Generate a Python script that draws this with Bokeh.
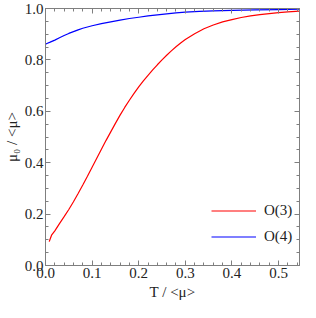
from bokeh.plotting import figure
from bokeh.models import (LinearAxis, FixedTicker, Range1d, Legend, LegendItem,
                          NumeralTickFormatter, CustomJSTickFormatter)
from bokeh.embed import file_html
from bokeh.resources import INLINE

# O(3) curve
t_o3 = [0.008, 0.010, 0.013, 0.02, 0.03, 0.04, 0.05, 0.06, 0.07, 0.08, 0.09, 0.10,
        0.11, 0.12, 0.13, 0.14, 0.15, 0.16, 0.17, 0.18, 0.19, 0.20, 0.21, 0.22,
        0.23, 0.24, 0.25, 0.26, 0.27, 0.28, 0.29, 0.30, 0.32, 0.34, 0.36, 0.38,
        0.40, 0.42, 0.44, 0.46, 0.48, 0.50, 0.52, 0.545]
mu_o3 = [0.093, 0.103, 0.118, 0.135, 0.163, 0.19, 0.218, 0.248, 0.28, 0.313, 0.347,
         0.382, 0.417, 0.452, 0.487, 0.52, 0.553, 0.585, 0.615, 0.643, 0.67, 0.695,
         0.718, 0.74, 0.761, 0.781, 0.80, 0.818, 0.835, 0.851, 0.866, 0.879, 0.902,
         0.921, 0.936, 0.948, 0.957, 0.965, 0.971, 0.976, 0.980, 0.984, 0.987, 0.990]
# O(4) curve
t_o4 = [0.0, 0.003, 0.01, 0.02, 0.03, 0.04, 0.05, 0.06, 0.07, 0.08, 0.09, 0.10,
        0.12, 0.14, 0.16, 0.18, 0.20, 0.22, 0.24, 0.26, 0.28, 0.30, 0.33, 0.36,
        0.40, 0.45, 0.50, 0.545]
mu_o4 = [0.861, 0.864, 0.869, 0.877, 0.886, 0.895, 0.903, 0.910, 0.917, 0.923,
         0.928, 0.933, 0.941, 0.948, 0.955, 0.961, 0.966, 0.971, 0.975, 0.979,
         0.983, 0.986, 0.989, 0.991, 0.993, 0.995, 0.996, 0.997]

x_major = [0.0, 0.1, 0.2, 0.3, 0.4, 0.5]
x_minor = [round(i * 0.02, 2) for i in range(0, 28)]
y_major = [0.0, 0.2, 0.4, 0.6, 0.8, 1.0]
y_minor = [round(i * 0.05, 2) for i in range(0, 21)]
labels = ["O(3)", "O(4)"]
colors = ["#ff0000", "#0000ff"]

FONT = "Liberation Serif"
AX = "#7f7f7f"

p = figure(width=300, height=302, output_backend="svg", toolbar_location=None,
           x_range=Range1d(0, 0.545), y_range=Range1d(0, 1.0),
           min_border_left=37, min_border_right=1, min_border_top=8, min_border_bottom=35,
           x_axis_location=None, y_axis_location=None)
p.grid.visible = False
p.outline_line_color = AX
p.background_fill_color = "white"
p.border_fill_color = "white"

xt = FixedTicker(ticks=x_major, minor_ticks=x_minor)
yt = FixedTicker(ticks=y_major, minor_ticks=y_minor)

def style(ax):
    ax.axis_line_color = AX
    ax.major_tick_line_color = AX
    ax.minor_tick_line_color = AX
    ax.major_tick_in = 5
    ax.major_tick_out = 0
    ax.minor_tick_in = 3
    ax.minor_tick_out = 0
    ax.major_label_text_font = FONT
    ax.major_label_text_font_size = "15px"
    ax.major_label_text_color = "#222222"
    ax.axis_label_text_font = FONT
    ax.axis_label_text_font_size = "15px"
    ax.axis_label_text_font_style = "normal"
    ax.axis_label_text_color = "#222222"

bx = LinearAxis(ticker=xt, axis_label="T / <μ>", formatter=NumeralTickFormatter(format="0.0"))
style(bx)
bx.major_label_standoff = 2
bx.axis_label_standoff = 3
p.add_layout(bx, "below")

ly = LinearAxis(ticker=yt, axis_label="μ₀ / <μ>", formatter=NumeralTickFormatter(format="0.0"))
style(ly)
ly.major_label_standoff = 2
ly.axis_label_standoff = 2
p.add_layout(ly, "left")

blank = CustomJSTickFormatter(code="return ''")
tx = LinearAxis(ticker=xt, formatter=blank)
style(tx)
tx.major_label_standoff = 0
p.add_layout(tx, "above")

ry = LinearAxis(ticker=yt, formatter=blank)
style(ry)
ry.major_label_standoff = 0
p.add_layout(ry, "right")

r3 = p.line(t_o3, mu_o3, line_color=colors[0], line_width=1.2)
r4 = p.line(t_o4, mu_o4, line_color=colors[1], line_width=1.2)

leg = Legend(items=[LegendItem(label=labels[0], renderers=[r3]),
                    LegendItem(label=labels[1], renderers=[r4])],
             location=(166, 20), border_line_color=None, background_fill_alpha=0,
             label_text_font=FONT, label_text_font_size="15px",
             label_text_color="#222222", glyph_width=45, glyph_height=15, spacing=9,
             label_standoff=8, padding=0, margin=0)
p.add_layout(leg, "center")

open("out.html", "w").write(file_html(p, INLINE))
